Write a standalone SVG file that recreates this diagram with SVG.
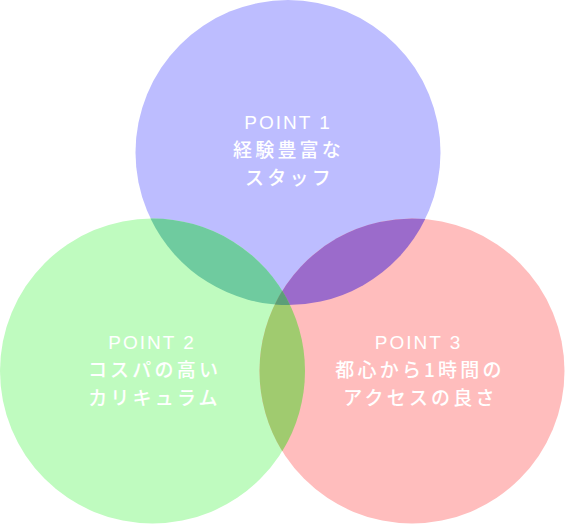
<svg xmlns="http://www.w3.org/2000/svg" width="565" height="524" viewBox="0 0 565 524">
<style>
.lbl{font-family:"Liberation Sans","Noto Sans CJK JP",sans-serif;font-size:19px;fill:#ffffff;text-anchor:middle;letter-spacing:2px}
.jp{font-family:"Noto Sans CJK JP",sans-serif;font-size:19px;fill:#ffffff;text-anchor:middle;letter-spacing:3.2px;font-weight:500}
</style>
<rect width="565" height="524" fill="#ffffff"/>
<g id="point1">
<circle cx="288" cy="152.5" r="152.5" fill="#bdbdff"/>
</g>
<g id="point2">
<circle cx="152.5" cy="371" r="152.5" fill="#bffbbf"/>
</g>
<g id="point3">
<circle cx="412" cy="371" r="152.5" fill="#ffbdbd"/>
</g>
<g id="overlaps">
<path d="M150.52,218.51 A152.5,152.5 0 0 0 289.98,304.99 A152.5,152.5 0 0 0 150.52,218.51 Z" fill="#6fcb9f"/>
<path d="M274.8,304.43 A152.5,152.5 0 0 0 425.2,219.07 A152.5,152.5 0 0 0 274.8,304.43 Z" fill="#9b6bcb"/>
<path d="M282.25,290.87 A152.5,152.5 0 0 1 282.25,451.13 A152.5,152.5 0 0 1 282.25,290.87 Z" fill="#a0cb6f"/>
<path d="M282.25,290.87 A152.5,152.5 0 0 1 289.98,304.99 A152.5,152.5 0 0 1 274.8,304.43 A152.5,152.5 0 0 1 282.25,290.87 Z" fill="#5c9e78"/>
</g>
<g id="labels">
<text class="lbl" x="288" y="129">POINT 1</text>
<text class="jp" x="288.5" y="157">経験豊富な</text>
<text class="jp" x="289.5" y="185">スタッフ</text>
<text class="lbl" x="152" y="349">POINT 2</text>
<text class="jp" x="154.5" y="377">コスパの高い</text>
<text class="jp" x="154.5" y="405">カリキュラム</text>
<text class="lbl" x="418.5" y="349">POINT 3</text>
<text class="jp" x="420" y="377">都心から1時間の</text>
<text class="jp" x="420.5" y="405">アクセスの良さ</text>
</g>
</svg>
